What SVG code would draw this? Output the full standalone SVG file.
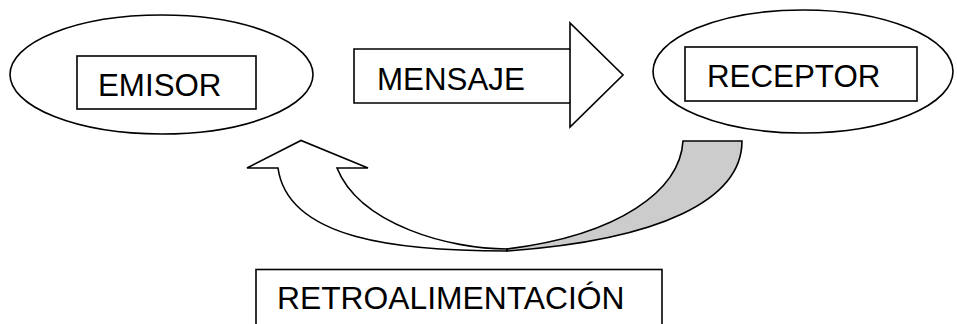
<svg xmlns="http://www.w3.org/2000/svg" width="957" height="324" viewBox="0 0 957 324">
<style>
.s{fill:#fff;stroke:#000;stroke-width:1.6;stroke-linejoin:miter}
.t{font-family:"Liberation Sans",Arial,sans-serif;font-size:31.3px;fill:#000}
</style>
<rect width="957" height="324" fill="#fff"/>
<g id="emisor">
<ellipse class="s" cx="161.5" cy="74.5" rx="151.5" ry="59.5"/>
<rect class="s" x="77" y="56" width="179" height="53"/>
<text class="t" x="98" y="96">EMISOR</text>
</g>
<g id="mensaje">
<path class="s" d="M354,49 H570 V23 L623,75 L570,127 V103 H354 Z"/>
<line x1="570" y1="49" x2="570" y2="103" stroke="#000" stroke-width="1.6"/>
<text class="t" x="377" y="90">MENSAJE</text>
</g>
<g id="receptor">
<ellipse class="s" cx="803" cy="71.5" rx="150" ry="61.5"/>
<rect class="s" x="685" y="47" width="232" height="54"/>
<text class="t" x="707" y="87">RECEPTOR</text>
</g>
<g id="connectors">
<path class="s" d="M337,168 L368,168 L301,140.5 L247,168 L278,168 C288,240 400,251 507,251 L507,249 C450,249 360,225 337,168 Z"/>
<path class="s" style="fill:#cccccc" d="M683,141 L742,141 C742,200 660,240 507,251 L507,249 C620,235 680,190 683,141 Z"/>
</g>
<g id="retroalimentacion">
<rect class="s" x="256" y="269.5" width="406" height="70"/>
<text class="t" x="277" y="309" style="font-size:31.8px">RETROALIMENTACIÓN</text>
</g>
</svg>
